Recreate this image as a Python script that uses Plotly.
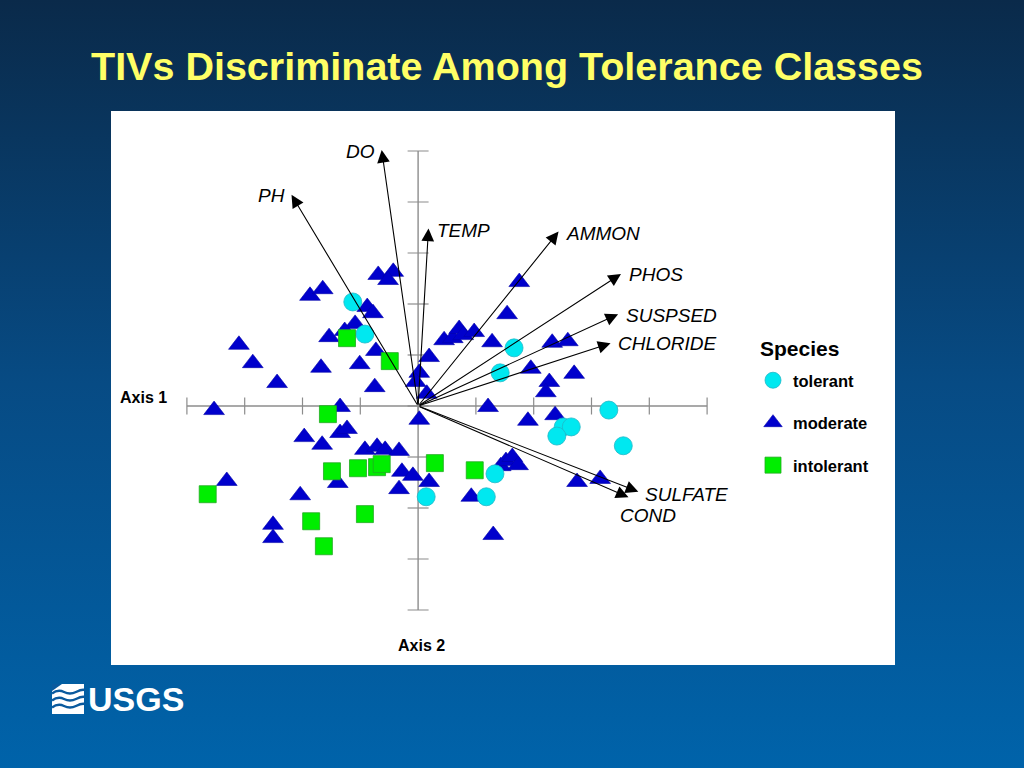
import base64
import plotly.graph_objects as go

W, H = 1024, 768

# ---------------- data (ordination scores, axis units) ----------------
tolerant_x = [-1.13, -0.92, 1.66, 1.42, 3.30, 2.51, 2.65, 2.40, 3.55, 1.33, 0.14, 1.18]
tolerant_y = [2.04, 1.41, 1.14, 0.65, -0.08, -0.41, -0.41, -0.59, -0.78, -1.33, -1.78, -1.78]

moderate_x = [-0.69, -0.43, -0.52, -1.87, -1.65, -0.88, -0.78, -1.09, -1.27, -1.54,
              -3.10, -2.86, -1.68, -1.01, -0.73, -2.44, -0.75, 0.19, 0.02, -0.04,
              0.15, -3.53, -1.35, 0.45, 0.60, 0.71, 0.78, 0.97, 1.28, 1.75,
              1.54, 2.32, 2.59, 1.95, 2.70, 2.27, 2.21, 1.21, 0.02, 1.90,
              2.37, -1.97, -1.66, -1.35, -1.23, -0.92, -0.71, -0.57, -0.33, -1.39,
              -0.28, -0.09, 0.19, -0.33, -3.31, -2.04, -2.51, -2.51, 1.43, 1.52,
              1.63, 1.73, 0.92, 1.30, 2.75, 3.15]
moderate_y = [2.57, 2.63, 2.47, 2.16, 2.29, 1.94, 1.82, 1.61, 1.47, 1.35,
              1.20, 0.84, 0.75, 0.82, 1.08, 0.45, 0.37, 0.96, 0.65, 0.47,
              0.24, -0.08, -0.02, 1.29, 1.33, 1.51, 1.39, 1.45, 1.25, 2.43,
              1.80, 1.24, 1.27, 0.73, 0.63, 0.47, 0.27, -0.02, -0.27, -0.29,
              -0.18, -0.61, -0.76, -0.53, -0.45, -0.86, -0.80, -0.86, -0.88, -1.51,
              -1.29, -1.37, -1.49, -1.63, -1.47, -1.75, -2.33, -2.59, -1.18, -1.08,
              -1.00, -1.16, -1.78, -2.53, -1.49, -1.43]

intolerant_x = [-1.23, -0.49, -1.56, -1.49, -1.04, -0.71, -0.63, 0.29, 0.98, -3.64, -1.85, -0.92, -1.63]
intolerant_y = [1.33, 0.88, -0.16, -1.28, -1.22, -1.20, -1.14, -1.12, -1.26, -1.73, -2.26, -2.12, -2.75]

# environmental vectors (biplot arrows)
env_vars = ["DO", "PH", "TEMP", "AMMON", "PHOS", "SUSPSED", "CHLORIDE", "SULFATE", "COND"]
env_x = [-0.63, -2.19, 0.18, 2.43, 3.51, 3.46, 3.33, 3.81, 3.64]
env_y = [5.02, 4.14, 3.48, 3.42, 2.59, 1.80, 1.23, -1.68, -1.79]

x_ticks = [-4, -3, -2, -1, 0, 1, 2, 3, 4, 5]
y_ticks = [-4, -3, -2, -1, 0, 1, 2, 3, 4, 5]

# ---------------- layout geometry ----------------
X0_PX, UX = 418.1, 57.8      # origin pixel and pixels per unit (x)
Y0_PX, UY = 406.0, 51.0      # origin pixel and pixels per unit (y)
XR = [-4.2, 5.2]
YR = [-4.2, 5.2]
xdom = [(X0_PX + XR[0] * UX) / W, (X0_PX + XR[1] * UX) / W]
ydom = [1 - (Y0_PX - YR[0] * UY) / H, 1 - (Y0_PX - YR[1] * UY) / H]


def px(x):
    return x / W


def py(y):
    return 1 - y / H


FONT = "Liberation Sans, Arial, Helvetica, sans-serif"

fig = go.Figure()

fig.add_trace(go.Scatter(
    x=moderate_x, y=moderate_y, mode="markers", name="moderate",
    legendgroup="m", legendrank=2, cliponaxis=False,
    marker=dict(symbol="triangle-up", size=18, color="#0000cc",
                line=dict(width=0.6, color="#0000aa")),
    hoverinfo="skip"))
fig.add_trace(go.Scatter(
    x=tolerant_x, y=tolerant_y, mode="markers", name="tolerant",
    legendgroup="t", legendrank=1, cliponaxis=False,
    marker=dict(symbol="circle", size=18, color="#00e8f0",
                line=dict(width=0.8, color="#20b8c8")),
    hoverinfo="skip"))
fig.add_trace(go.Scatter(
    x=intolerant_x, y=intolerant_y, mode="markers", name="intolerant",
    legendgroup="i", legendrank=3, cliponaxis=False,
    marker=dict(symbol="square", size=17, color="#00ee00",
                line=dict(width=0.8, color="#22aa22")),
    hoverinfo="skip"))

# background gradient
svg = ('<svg xmlns="http://www.w3.org/2000/svg" width="1024" height="768">'
       '<defs><linearGradient id="g" x1="0" y1="0" x2="0" y2="1">'
       '<stop offset="0" stop-color="#0a2a4a"/>'
       '<stop offset="0.5" stop-color="#074b84"/>'
       '<stop offset="1" stop-color="#0063aa"/>'
       '</linearGradient></defs>'
       '<rect width="1024" height="768" fill="url(#g)"/></svg>')
src = "data:image/svg+xml;base64," + base64.b64encode(svg.encode()).decode()

shapes = []
# white panel
shapes.append(dict(type="rect", xref="paper", yref="paper",
                   x0=px(111), x1=px(895), y0=py(665), y1=py(111),
                   fillcolor="white", line=dict(width=0), layer="below"))
AX_COL = "#8c8c8c"
# axis lines
shapes.append(dict(type="line", xref="x", yref="y", x0=x_ticks[0], x1=x_ticks[-1], y0=0, y1=0,
                   line=dict(color=AX_COL, width=1.4), layer="below"))
shapes.append(dict(type="line", xref="x", yref="y", x0=0, x1=0, y0=y_ticks[0], y1=y_ticks[-1],
                   line=dict(color=AX_COL, width=1.4), layer="below"))
th = 8.5 / UY
tw = 10.5 / UX
for xt in x_ticks:
    shapes.append(dict(type="line", xref="x", yref="y", x0=xt, x1=xt, y0=-th, y1=th,
                       line=dict(color=AX_COL, width=1.2), layer="below"))
for yt in y_ticks:
    shapes.append(dict(type="line", xref="x", yref="y", x0=-tw, x1=tw, y0=yt, y1=yt,
                       line=dict(color=AX_COL, width=1.2), layer="below"))

# USGS wave icon (decorative)
def ppath(pts):
    return "M" + " L".join(f"{px(a):.5f},{py(b):.5f}" for a, b in pts) + " Z"

shapes.append(dict(type="path", xref="paper", yref="paper",
                   path=ppath([(52, 684), (84, 684), (84, 714), (52, 714)]),
                   fillcolor="white", line=dict(width=0)))
BG_WAVE = "#0a5a9e"
for yy in [692, 699, 706]:
    d = (f"M{px(52):.5f},{py(yy + 1.5):.5f} "
         f"Q{px(58):.5f},{py(yy - 3):.5f} {px(64):.5f},{py(yy):.5f} "
         f"T{px(76):.5f},{py(yy):.5f} T{px(85):.5f},{py(yy - 2):.5f}")
    shapes.append(dict(type="path", xref="paper", yref="paper", path=d,
                       line=dict(color=BG_WAVE, width=2.4)))
shapes.append(dict(type="path", xref="paper", yref="paper",
                   path=ppath([(52, 684), (62, 684), (52, 691)]),
                   fillcolor=BG_WAVE, line=dict(width=0)))

annotations = []
# arrows
for vx, vy in zip(env_x, env_y):
    annotations.append(dict(x=vx, y=vy, xref="x", yref="y", ax=0, ay=0, axref="x", ayref="y",
                            text="", showarrow=True, arrowhead=2, arrowsize=2.3,
                            arrowwidth=1.1, arrowcolor="black", standoff=0, startstandoff=0))

# arrow labels (pixel placement of text)
label_pos = {
    "DO": (377, 151, "right"), "PH": (287, 195, "right"), "TEMP": (435, 230, "left"),
    "AMMON": (564, 233, "left"), "PHOS": (627, 274, "left"), "SUSPSED": (624, 315, "left"),
    "CHLORIDE": (616, 343, "left"), "SULFATE": (643, 494, "left"), "COND": (618, 515, "left"),
}
for name in env_vars:
    lx, ly, anc = label_pos[name]
    annotations.append(dict(x=(lx - X0_PX) / UX, y=(Y0_PX - ly) / UY, xref="x", yref="y",
                            text=f"<i>{name}</i>", showarrow=False, xanchor=anc, yanchor="middle",
                            font=dict(family=FONT, size=19, color="black")))

annotations.append(dict(x=px(169), y=py(397), xref="paper", yref="paper", text="Axis 1",
                        showarrow=False, xanchor="right", yanchor="middle",
                        font=dict(family=FONT, size=16, color="black", weight="bold")))
annotations.append(dict(x=px(421), y=py(645), xref="paper", yref="paper", text="Axis 2",
                        showarrow=False, xanchor="center", yanchor="middle",
                        font=dict(family=FONT, size=16, color="black", weight="bold")))
annotations.append(dict(x=px(507), y=py(66), xref="paper", yref="paper",
                        text="TIVs Discriminate Among Tolerance Classes",
                        showarrow=False, xanchor="center", yanchor="middle",
                        font=dict(family=FONT, size=39.5, color="#ffff66", weight="bold")))
annotations.append(dict(x=px(758), y=py(348), xref="paper", yref="paper", text="Species",
                        showarrow=False, xanchor="left", yanchor="middle",
                        font=dict(family=FONT, size=21, color="black", weight="bold")))
annotations.append(dict(x=px(86), y=py(699), xref="paper", yref="paper", text="USGS",
                        showarrow=False, xanchor="left", yanchor="middle",
                        font=dict(family="Liberation Sans Narrow, Arial Narrow, " + FONT,
                                  size=34, color="white", weight="bold")))

fig.update_layout(
    width=W, height=H,
    margin=dict(l=0, r=0, t=0, b=0, pad=0),
    paper_bgcolor="#0a4678", plot_bgcolor="rgba(0,0,0,0)",
    xaxis=dict(range=XR, domain=xdom, visible=False, fixedrange=True),
    yaxis=dict(range=YR, domain=ydom, visible=False, fixedrange=True),
    showlegend=True,
    legend=dict(x=px(753), y=py(363), xanchor="left", yanchor="top",
                bgcolor="rgba(0,0,0,0)", borderwidth=0,
                font=dict(family=FONT, size=16.5, color="black", weight="bold"),
                tracegroupgap=18, itemsizing="trace", itemwidth=30),
    images=[dict(source=src, xref="paper", yref="paper", x=0, y=1, sizex=1, sizey=1,
                 xanchor="left", yanchor="top", sizing="stretch", layer="below")],
    shapes=shapes,
    annotations=annotations,
)

fig.write_html("out.html", config={"displayModeBar": False},
               post_script="document.body.style.margin='0';document.body.style.overflow='hidden';")
